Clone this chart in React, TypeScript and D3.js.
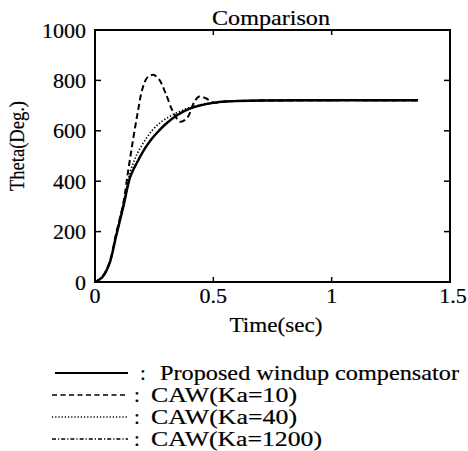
import React from "react";
import * as d3 from "d3";

// Step responses of the joint angle, in degrees, sampled at the times below
const timeProposed = [0, 0.03, 0.06, 0.09, 0.12, 0.15, 0.18, 0.21, 0.24, 0.27, 0.3, 0.35, 0.4, 0.45, 0.5, 0.55, 0.6, 0.7, 0.9, 1.365];
const thetaProposed = [0, 18, 70, 185, 300, 420, 478, 528, 568, 600, 628, 664, 688, 702, 711, 716, 718, 720, 721, 721];

const timeKa10 = [0, 0.03, 0.06, 0.09, 0.12, 0.14, 0.16, 0.18, 0.2, 0.22, 0.245, 0.27, 0.3, 0.33, 0.36, 0.39, 0.42, 0.44, 0.47, 0.5, 0.55, 0.6, 0.7, 0.9, 1.365];
const thetaKa10 = [0, 20, 75, 195, 315, 440, 560, 670, 765, 810, 822, 805, 745, 675, 636, 652, 715, 736, 728, 712, 716, 718, 720, 721, 721];

const timeKa40 = [0, 0.03, 0.06, 0.09, 0.12, 0.15, 0.18, 0.21, 0.24, 0.27, 0.3, 0.35, 0.4, 0.45, 0.5, 0.55, 0.6, 0.7, 0.9, 1.365];
const thetaKa40 = [0, 20, 72, 192, 312, 440, 512, 560, 600, 628, 648, 674, 692, 704, 711, 716, 718, 720, 721, 721];

const timeKa1200 = [0, 0.03, 0.06, 0.09, 0.12, 0.15, 0.18, 0.21, 0.24, 0.27, 0.3, 0.35, 0.4, 0.45, 0.5, 0.55, 0.6, 0.7, 0.9, 1.365];
const thetaKa1200 = [0, 18, 71, 186, 302, 421, 480, 530, 569, 601, 629, 665, 688, 702, 711, 716, 718, 720, 721, 721];

const xTicks = [0, 0.5, 1, 1.5];
const xTickLabels = ["0", "0.5", "1", "1.5"];
const yTicks = [0, 200, 400, 600, 800, 1000];

const legendLabels = [
  "Proposed windup compensator",
  "CAW(Ka=10)",
  "CAW(Ka=40)",
  "CAW(Ka=1200)",
];

const W = 468;
const H = 451;
const left = 95;
const right = 450;
const top = 30;
const bottom = 282;
const font = '"Liberation Serif", Times, serif';

export default function App() {
  const x = d3.scaleLinear().domain([0, 1.5]).range([left, right]);
  const y = d3.scaleLinear().domain([0, 1000]).range([bottom, top]);

  const line = d3
    .line<[number, number]>()
    .x((d) => x(d[0]))
    .y((d) => y(d[1]))
    .curve(d3.curveCatmullRom.alpha(0.5));

  const zip = (t: number[], v: number[]) => t.map((ti, i) => [ti, v[i]] as [number, number]);

  const series = [
    { d: zip(timeKa10, thetaKa10), dash: "6,3.5", w: 2 },
    { d: zip(timeKa40, thetaKa40), dash: "1.3,2", w: 1.7 },
    { d: zip(timeKa1200, thetaKa1200), dash: "5,2,1.2,2", w: 1.7 },
    { d: zip(timeProposed, thetaProposed), dash: "none", w: 2.4 },
  ];

  const legendRows = [
    { label: legendLabels[0], x1: 55, x2: 128, colon: 143, tx: 160, base: 380, dash: "none", len: 299 },
    { label: legendLabels[1], x1: 52, x2: 125, colon: 137, tx: 151, base: 402, dash: "5,3.5", len: 146 },
    { label: legendLabels[2], x1: 52, x2: 128, colon: 137, tx: 151, base: 424, dash: "1.2,2", len: 146 },
    { label: legendLabels[3], x1: 52, x2: 128, colon: 137, tx: 151, base: 446, dash: "4,2,1.2,2", len: 171 },
  ];

  // a faint outline gives the glyphs the weight of the printed figure
  const txt = { fontFamily: font, fill: "#000", stroke: "#000", strokeWidth: 0.2 } as React.CSSProperties;

  return (
    <svg
      width={W}
      height={H}
      viewBox={`0 0 ${W} ${H}`}
      style={{ position: "absolute", left: 0, top: 0, background: "#fff", fontFamily: font }}
    >
      <rect x={0} y={0} width={W} height={H} fill="#fff" />

      {/* plot frame */}
      <rect x={left} y={top} width={right - left} height={bottom - top} fill="none" stroke="#000" strokeWidth={2} />

      {/* inward ticks on all four sides */}
      {xTicks.slice(1, -1).map((t) => (
        <g key={`xt${t}`}>
          <line x1={x(t)} x2={x(t)} y1={bottom} y2={bottom - 5} stroke="#000" strokeWidth={1.5} />
          <line x1={x(t)} x2={x(t)} y1={top} y2={top + 5} stroke="#000" strokeWidth={1.5} />
        </g>
      ))}
      {yTicks.slice(1, -1).map((v) => (
        <g key={`yt${v}`}>
          <line x1={left} x2={left + 6} y1={y(v)} y2={y(v)} stroke="#000" strokeWidth={1.5} />
          <line x1={right} x2={right - 6} y1={y(v)} y2={y(v)} stroke="#000" strokeWidth={1.5} />
        </g>
      ))}

      {/* tick labels */}
      {xTicks.map((t, i) => (
        <text key={`xl${t}`} x={x(t) + (i === 3 ? 3 : 0)} y={303} fontSize={22} textAnchor="middle" style={txt}>
          {xTickLabels[i]}
        </text>
      ))}
      {yTicks.map((v) => (
        <text key={`yl${v}`} x={86} y={y(v) + 7.5} fontSize={22} textAnchor="end" style={txt}>
          {v}
        </text>
      ))}

      {/* titles */}
      <text x={271} y={25} fontSize={22} textAnchor="middle" textLength={118} lengthAdjust="spacingAndGlyphs" style={txt}>
        Comparison
      </text>
      <text x={276} y={332} fontSize={22} textAnchor="middle" textLength={93} lengthAdjust="spacingAndGlyphs" style={txt}>
        Time(sec)
      </text>
      <text
        transform={`translate(24,146) rotate(-90)`}
        fontSize={21}
        textAnchor="middle"
        textLength={90}
        lengthAdjust="spacingAndGlyphs"
        style={txt}
      >
        Theta(Deg.)
      </text>

      {/* response curves */}
      {series.map((s, i) => (
        <path
          key={`s${i}`}
          d={line(s.d) || ""}
          fill="none"
          stroke="#000"
          strokeWidth={s.w}
          strokeDasharray={s.dash}
        />
      ))}

      {/* legend */}
      {legendRows.map((r, i) => (
        <g key={`lg${i}`}>
          <line
            x1={r.x1}
            x2={r.x2}
            y1={r.base - 7}
            y2={r.base - 7}
            stroke="#000"
            strokeWidth={i === 0 ? 1.8 : 1.4}
            strokeDasharray={r.dash}
          />
          <text x={r.colon} y={r.base} fontSize={21} textAnchor="middle" style={txt}>
            :
          </text>
          <text x={r.tx} y={r.base} fontSize={21} textLength={r.len} lengthAdjust="spacingAndGlyphs" style={txt}>
            {r.label}
          </text>
        </g>
      ))}
    </svg>
  );
}
